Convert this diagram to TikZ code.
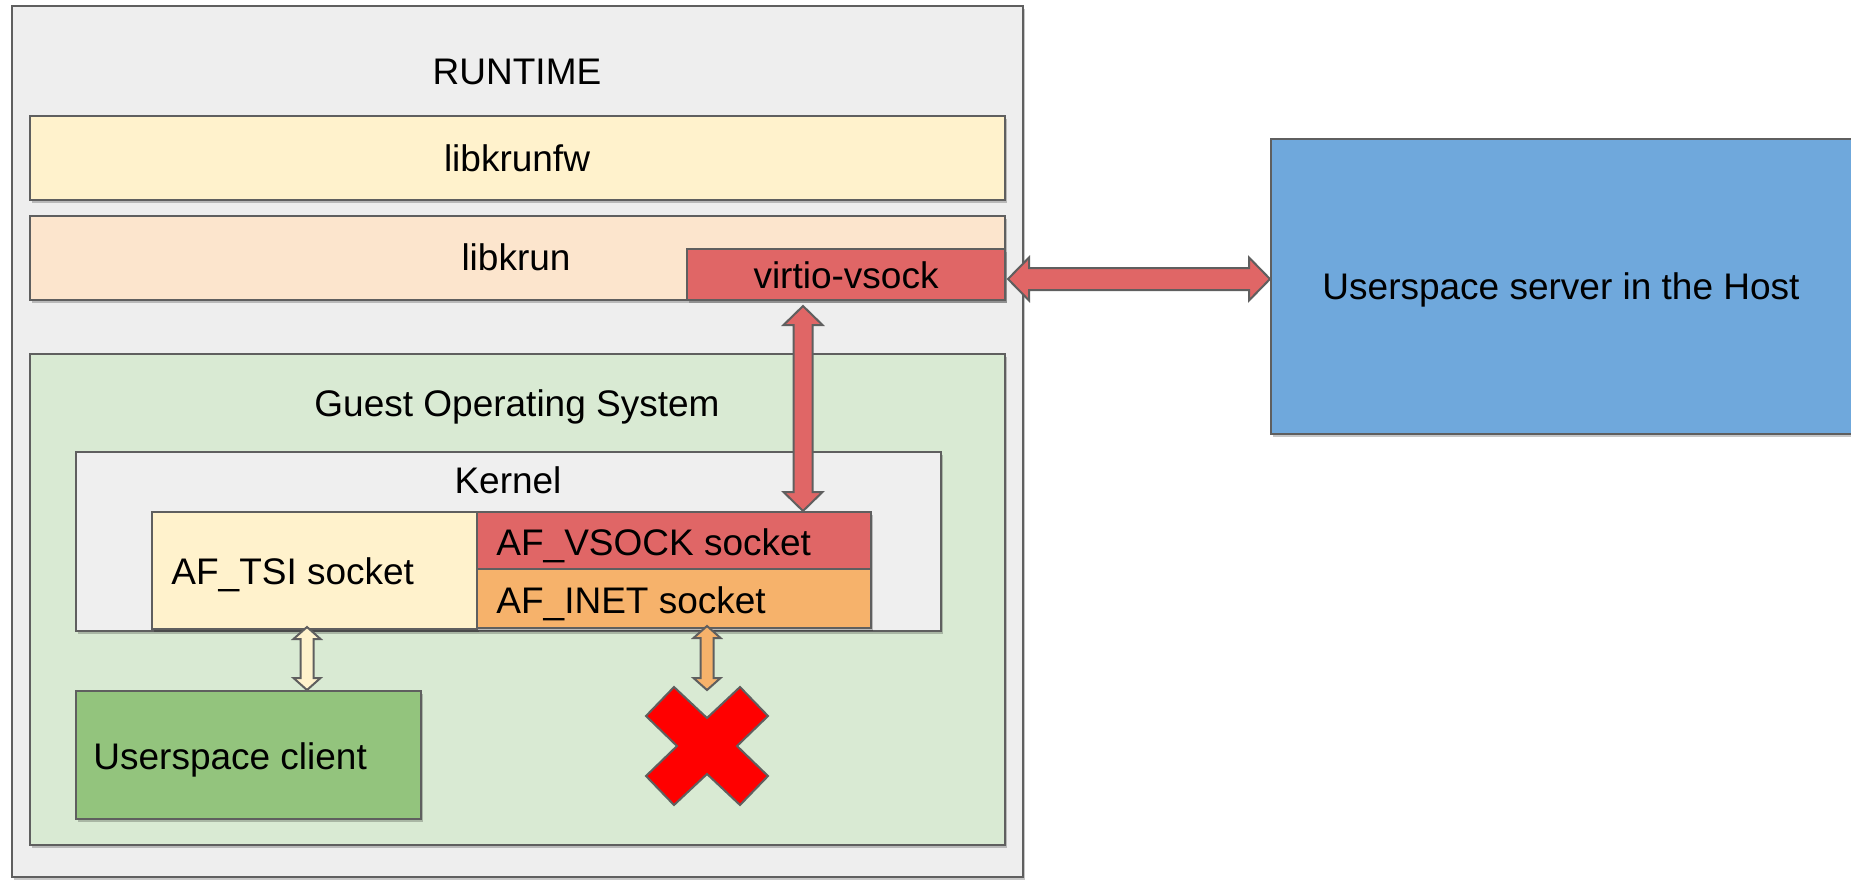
\documentclass[tikz,border=0pt]{standalone}
\usepackage{fontspec}
\setmainfont{Liberation Sans}
\usetikzlibrary{fit,calc,shadows}
\definecolor{edgegray}{HTML}{5F5F5F}
\definecolor{runtimebg}{HTML}{EEEEEE}
\definecolor{fwyellow}{HTML}{FFF2CC}
\definecolor{krunpeach}{HTML}{FCE5CD}
\definecolor{vsockred}{HTML}{E06666}
\definecolor{guestgreen}{HTML}{D9EAD3}
\definecolor{kernelgray}{HTML}{EFEFEF}
\definecolor{inetorange}{HTML}{F6B26B}
\definecolor{clientgreen}{HTML}{93C47D}
\definecolor{hostblue}{HTML}{6FA8DC}
\definecolor{xred}{HTML}{FF0000}
\newcommand{\blockarrowH}[6]{%
  \draw[blk=#1] let \p1=(#2), \p2=(#3) in
    (\x1,\y1) -- (\x1+#6,\y1+#5) -- (\x1+#6,\y1+#4) -- (\x2-#6,\y2+#4) -- (\x2-#6,\y2+#5)
    -- (\x2,\y2) -- (\x2-#6,\y2-#5) -- (\x2-#6,\y2-#4) -- (\x1+#6,\y1-#4) -- (\x1+#6,\y1-#5) -- cycle;}
\newcommand{\blockarrowV}[6]{%
  \draw[blk=#1] let \p1=(#2), \p2=(#3) in
    (\x1,\y1) -- (\x1+#5,\y1-#6) -- (\x1+#4,\y1-#6) -- (\x2+#4,\y2+#6) -- (\x2+#5,\y2+#6)
    -- (\x2,\y2) -- (\x2-#5,\y2+#6) -- (\x2-#4,\y2+#6) -- (\x1-#4,\y1-#6) -- (\x1-#5,\y1-#6) -- cycle;}
\begin{document}
\begin{tikzpicture}[x=0.5pt,y=-0.5pt,
  font=\fontsize{18.5pt}{22pt}\selectfont,
  box/.style={draw=edgegray, line width=1pt, inner sep=0pt, fill=#1,
    drop shadow={shadow xshift=1.2pt, shadow yshift=-1.6pt, opacity=0.22, fill=black}},
  lbl/.style={inner sep=0pt, text height=13.2pt, text depth=0pt, anchor=center},
  lbll/.style={lbl, anchor=west},
  blk/.style={draw=edgegray, line width=1pt, line join=miter, fill=#1}]
\useasboundingbox (0,0) rectangle (1851,879);

% containers
\node[box=runtimebg, fit={(12,6) (1023,877)}] (runtime) {};
\node[lbl] (runtimelbl) at (517,71) {RUNTIME};

\node[box=fwyellow, fit={(30,116) (1005,200)}] (libkrunfw) {};
\node[lbl] (libkrunfwlbl) at (517,158) {libkrunfw};

\node[box=krunpeach, fit={(30,216) (1005,300)}] (libkrun) {};
\node[lbl] (libkrunlbl) at (516,257) {libkrun};

\node[box=vsockred, fit={(687,249) (1005,300)}] (vsock) {};
\node[lbl] (vsocklbl) at (846,275) {virtio-vsock};

\node[box=guestgreen, fit={(30,354) (1005,845)}] (guest) {};
\node[lbl] (guestlbl) at (517,403) {Guest Operating System};

\node[box=kernelgray, fit={(76,452) (941,631)}] (kernel) {};
\node[lbl] (kernellbl) at (508,480) {Kernel};

\node[box=fwyellow, fit={(152,512) (477,629)}] (tsi) {};
\node[lbll] (tsilbl) at (171,571) {AF\_TSI socket};

\node[box=vsockred, fit={(477,512) (871,569)}] (afvsock) {};
\node[lbll] (afvsocklbl) at (496,542) {AF\_VSOCK socket};

\node[box=inetorange, fit={(477,569) (871,628)}] (inet) {};
\node[lbll] (inetlbl) at (496,600) {AF\_INET socket};

\node[box=clientgreen, fit={(76,691) (421,819)}] (client) {};
\node[lbll] (clientlbl) at (93,756) {Userspace client};

\node[box=hostblue, fit={(1271,139) (1853,434)}] (host) {};
\node[lbl] (hostlbl) at (1561,286) {Userspace server in the Host};

% red cross
\filldraw[blk=xred]
  (646,716) -- (674,687) -- (707,718) -- (740,687) -- (768,716) -- (737,746)
  -- (768,776) -- (740,805) -- (707,774) -- (674,805) -- (646,776) -- (677,746) -- cycle;

% reference coordinates for block arrows
\coordinate (hy) at (0,279);
\coordinate (vx) at (803,0);
\coordinate (tx) at (307,0);
\coordinate (ix) at (707,0);
\coordinate (xtop) at (707,690);

% block arrows
\blockarrowH{vsockred}{[xshift=1pt]vsock.east |- hy}{host.west |- hy}{5.5pt}{10.75pt}{10.5pt}
\blockarrowV{vsockred}{[yshift=-2.5pt]vx |- vsock.south}{vx |- afvsock.north}{4.75pt}{9.75pt}{9.5pt}
\blockarrowV{fwyellow}{[yshift=1.5pt]tx |- tsi.south}{tx |- client.north}{3.25pt}{6.75pt}{6pt}
\blockarrowV{inetorange}{[yshift=1.5pt]ix |- inet.south}{xtop}{3.25pt}{6.75pt}{6pt}
\end{tikzpicture}
\end{document}
